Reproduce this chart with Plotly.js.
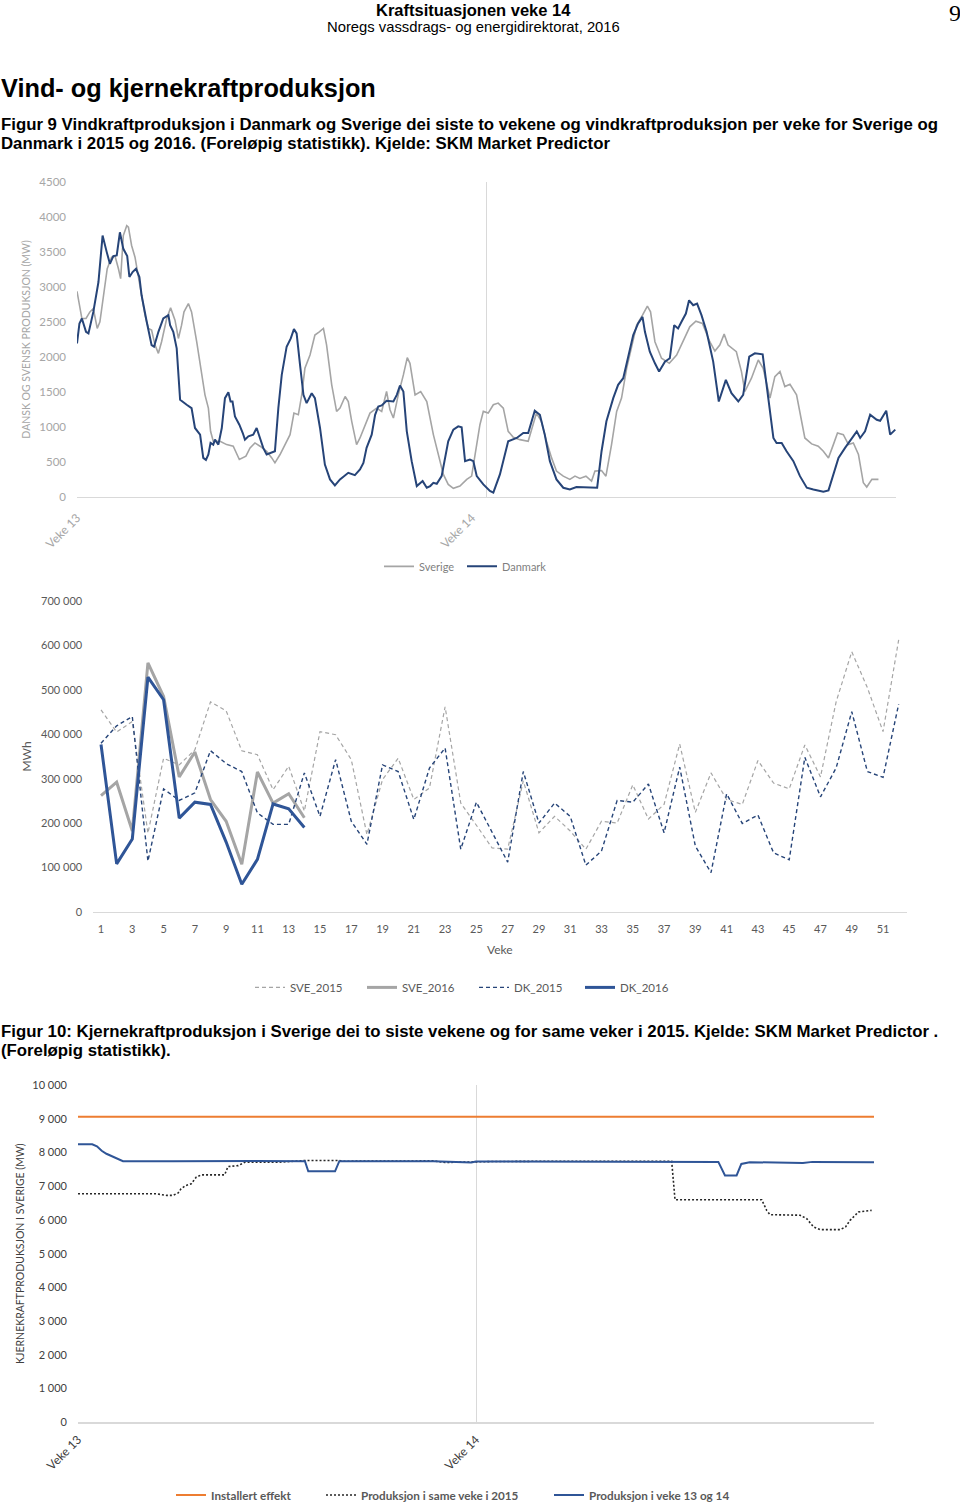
<!DOCTYPE html>
<html>
<head>
<meta charset="utf-8">
<script src="https://cdn.plot.ly/plotly-3.0.1.min.js"></script>
<style>
html,body{margin:0;padding:0;background:#fff;width:960px;height:1510px;overflow:hidden;}
#chart{width:960px;height:1510px;overflow:hidden;}
</style>
</head>
<body>
<div id="chart"></div>
<script>
// ---------- Figur 9 (top): hourly wind production, veke 13-14 (hour index, MW) ----------
const windWeekStartHours = [0, 168];
const windLabelHours = [0, 162];
const windTickLabels = ["Veke 13", "Veke 14"];

const dkHours = [0,1,2,3.7,4.7,6.7,8.8,10.5,12.2,13.5,14.9,16.3,17.6,19,20.6,21.5,22.8,24.2,25.6,26.5,28.6,30.6,31.6,33.4,35.4,37.5,38.2,39.5,40.9,42.3,45,47,48.4,50.5,51.8,52.9,53.9,54.8,55.9,56.6,58,59.4,60.7,62.1,63,63.8,64.8,66.6,68,68.9,70.3,72.3,73.7,75.1,76.4,77.8,79.2,81.2,82.6,84,86,87.7,89,90.1,91.5,92.9,94.2,96.3,97.6,99.7,101.7,103.8,105.8,107.9,111.3,114,116.1,117.5,118.8,120.9,122.3,123.6,125,127,129.8,131.2,132.5,133.9,135.3,137.3,139.4,141.8,143.5,144.9,146.2,147.6,149.6,151,152.3,154.4,156.4,157.8,159.2,161.2,162.6,164,166.7,169.4,170.8,173.5,176.9,180.4,183.1,185.1,187.8,189.9,191.9,194,196.7,199.5,202.2,204.9,207.7,210.4,213.4,215.2,217.2,220,222,224.1,226.1,228.2,230.2,232,233,235,237.1,238.8,241.2,243.2,245,246.6,248,249.8,251.1,252.8,254.4,256.2,258.3,261,263.3,266.2,268.5,271.3,273.3,275.8,278.1,281.3,283.6,285.7,287,289.1,291.1,293.9,296.6,299.4,302.1,306.2,308.3,310.3,312.4,315.1,317.8,319.9,321.3,323.3,325.4,328.1,329.5,332,333.6,335.7];
const dkMW = [2193,2478,2549,2359,2336,2644,3071,3736,3499,3332,3442,3451,3783,3546,3442,3143,3214,3261,3143,2881,2502,2169,2146,2359,2549,2597,2454,2359,2122,1386,1315,1267,983,888,555,527,603,769,745,816,745,983,1410,1495,1362,1362,1149,1030,911,816,864,888,983,816,698,603,627,650,1267,1742,2146,2264,2397,2336,1885,1457,1339,1481,1410,983,460,247,161,247,342,309,389,484,698,888,1172,1291,1305,1372,1362,1457,1590,1505,935,508,152,223,128,152,199,185,294,555,793,959,1006,992,508,532,508,294,176,81,57,318,793,840,911,911,1229,1172,888,508,247,128,104,138,138,128,128,650,1078,1410,1600,1695,1980,2312,2478,2573,2359,2074,1908,1790,1932,1980,2454,2407,2502,2620,2810,2739,2763,2597,2359,1932,1362,1671,1481,1362,1457,2003,2051,2036,1410,840,769,769,650,508,294,128,104,71,90,318,555,698,840,935,840,935,1172,1101,1087,1229,888,959];

const seHours = [0,1,2,3.7,5.3,6.7,8.3,9.4,10.8,12.4,14.2,15.6,17,17.9,19,20.4,21.1,22.4,23.8,25.2,26.5,27.9,29.3,30.6,32,33.4,34.7,36.8,38.4,40.2,41.6,42.9,43.9,45.7,47,49.1,51.1,52.5,53.9,54.8,55.9,58.7,61.4,64.1,66.6,69.3,71,73,75.1,77.8,79.9,81.2,83.3,85.3,87.4,89,90.8,92.2,93.5,95.6,97.6,99.4,101.1,102.4,104.5,106.5,107.9,110,111.3,112.7,114.7,116.1,118.2,120.2,122.9,125,127,128.4,129.8,131.8,133.9,135.5,136.6,138.7,141,143.5,146.2,148.3,150.3,152.3,154.4,157.1,159.9,161.9,163.3,165.3,166.7,168.7,170.8,172.8,174.9,176.9,179,181.7,185.1,187.1,188.5,190.5,192.6,194.7,196.7,199.5,202.2,204.3,206.3,208.8,211.1,212.5,215.2,217,219.3,221.4,223.4,225.5,227.5,229.6,232,234,235.3,237.1,239.8,243,246,248.7,251.4,253.9,256.6,259.6,261.7,263.7,265.5,267.1,270.5,272.6,274,276.7,279.5,281.5,284.3,286.3,288.4,290.4,292.5,295.2,297.3,298.6,301.4,304.1,306.2,308.3,310.3,312,314.4,316.5,318.5,320.6,322.6,324,326.1,328.8];
const seMW = [2938,2739,2549,2549,2644,2692,2407,2502,2881,3261,3427,3442,3261,3119,3736,3878,3855,3594,3427,3119,2881,2597,2407,2383,2169,2051,2217,2549,2701,2525,2264,2454,2644,2763,2644,2217,1790,1457,1267,935,793,793,745,722,532,579,698,769,722,650,555,484,603,745,888,1196,1172,1457,1837,2027,2312,2359,2407,2169,1600,1220,1267,1434,1362,1078,745,840,1030,1196,1267,1220,1505,1244,1125,1457,1742,1989,1908,1457,1505,1362,888,603,318,176,119,152,247,294,603,1030,1220,1196,1315,1339,1267,935,850,816,793,1030,1196,1078,793,555,366,294,247,294,261,294,223,366,375,294,745,1220,1410,1837,2122,2454,2597,2725,2644,2217,1980,1908,2027,2217,2430,2511,2478,2217,2084,2169,2326,2169,2074,1790,1505,1695,1956,1837,1410,1718,1790,1576,1609,1457,1078,840,755,722,650,555,745,911,888,745,769,603,199,138,247,247];

// ---------- Figur 9 (middle): weekly wind production (MWh) ----------
const weeks = Array.from({length: 52}, (_, i) => i + 1);
const weeks2016 = weeks.slice(0, 14);
const sve2015 = [455000,405000,429000,177000,346000,331000,365000,473000,453000,363000,354000,275000,328000,227000,406000,399000,343000,174000,298000,346000,253000,279000,462000,245000,195000,144000,141000,295000,178000,215000,182000,141000,204000,200000,286000,209000,242000,378000,224000,313000,253000,242000,341000,290000,277000,376000,304000,473000,586000,505000,406000,613000];
const sve2016 = [262000,292000,182000,561000,485000,304000,360000,253000,204000,107000,315000,245000,266000,212000];
const dk2015 = [380000,419000,440000,114000,277000,251000,268000,363000,334000,316000,223000,197000,197000,313000,215000,343000,204000,152000,331000,316000,208000,324000,369000,141000,247000,180000,112000,316000,200000,245000,215000,105000,137000,251000,247000,288000,178000,326000,148000,88000,266000,199000,218000,133000,117000,348000,259000,324000,451000,316000,303000,468000];
const dk2016 = [377000,108000,164000,529000,478000,211000,247000,242000,157000,62000,118000,243000,232000,190000];

// ---------- Figur 10 (bottom): Swedish nuclear production (MW) ----------
const nucTickHours = [0, 168];
const nucTickLabels = ["Veke 13", "Veke 14"];
const instHours = [0, 336];
const instMW = [9060, 9060];
const prod2015Hours = [0,33,37.4,40,42.3,43.5,45.5,47.8,49.9,52,61.9,63.3,67.6,70.4,84,90,96,110,112,150,155,160,175,200,230,250.6,252,288.6,290.7,292.1,304.8,307.6,310.5,313.3,321.7,324,325.9,329.4,335];
const prod2015MW = [6775,6775,6726,6726,6800,6922,7020,7070,7266,7335,7335,7581,7610,7709,7709,7740,7760,7760,7740,7750,7700,7710,7730,7740,7730,7740,6600,6600,6283,6155,6140,6037,5792,5713,5713,5792,5988,6234,6283];
const prodNowHours = [0,6,8,10,12,14,16,17.5,19,40,55,65,75,95.8,97.2,108.5,110.3,150,166,168,200,250,270.3,273.1,278,280,283.5,306,310,336];
const prodNowMW = [8240,8240,8180,8050,7960,7900,7850,7800,7740,7740,7750,7735,7745,7740,7440,7440,7740,7740,7700,7730,7720,7720,7720,7320,7320,7660,7710,7690,7720,7710];

// ---------- layout helpers ----------
const W = 960, H = 1510;
const px = x => x / W;
const py = y => 1 - y / H;
const TXT = "'Liberation Sans',Arial,Helvetica,sans-serif";
const CHF = "Lato, 'Open Sans', sans-serif";
const gray = '#a5a5a5', navy = '#264478', blue = '#2f5597', orange = '#ed7d31';

const traces = [
  {x: seHours, y: seMW, name: 'Sverige', type: 'scatter', mode: 'lines', xaxis: 'x', yaxis: 'y', legend: 'legend', legendwidth: 38,
   line: {color: gray, width: 1.6}},
  {x: dkHours, y: dkMW, name: 'Danmark', type: 'scatter', mode: 'lines', xaxis: 'x', yaxis: 'y', legend: 'legend',
   line: {color: navy, width: 2}},

  {x: weeks, y: sve2015, name: 'SVE_2015', type: 'scatter', mode: 'lines', xaxis: 'x2', yaxis: 'y2', legend: 'legend2', legendwidth: 67,
   line: {color: gray, width: 1.2, dash: '4px,3px'}},
  {x: weeks2016, y: sve2016, name: 'SVE_2016', type: 'scatter', mode: 'lines', xaxis: 'x2', yaxis: 'y2', legend: 'legend2', legendwidth: 67,
   line: {color: gray, width: 3}},
  {x: weeks, y: dk2015, name: 'DK_2015', type: 'scatter', mode: 'lines', xaxis: 'x2', yaxis: 'y2', legend: 'legend2', legendwidth: 61,
   line: {color: navy, width: 1.4, dash: '4px,3px'}},
  {x: weeks2016, y: dk2016, name: 'DK_2016', type: 'scatter', mode: 'lines', xaxis: 'x2', yaxis: 'y2', legend: 'legend2',
   line: {color: blue, width: 3}},

  {x: instHours, y: instMW, name: 'Installert effekt', type: 'scatter', mode: 'lines', xaxis: 'x3', yaxis: 'y3', legend: 'legend3', legendwidth: 105,
   line: {color: orange, width: 2}},
  {x: prod2015Hours, y: prod2015MW, name: 'Produksjon i same veke i 2015', type: 'scatter', mode: 'lines', xaxis: 'x3', yaxis: 'y3', legend: 'legend3', legendwidth: 183,
   line: {color: '#262626', width: 1.6, dash: '2px,2px'}},
  {x: prodNowHours, y: prodNowMW, name: 'Produksjon i veke 13 og 14', type: 'scatter', mode: 'lines', xaxis: 'x3', yaxis: 'y3', legend: 'legend3',
   line: {color: blue, width: 2}}
];

function ann(text, x, y, size, opts) {
  return Object.assign({
    text: text, x: px(x), y: py(y), xref: 'paper', yref: 'paper', showarrow: false,
    xanchor: 'left', yanchor: 'middle', font: {family: TXT, size: size, color: '#000'}
  }, opts || {});
}

const layout = {
  width: W, height: H, autosize: false,
  margin: {l: 0, r: 0, t: 0, b: 0},
  paper_bgcolor: '#fff', plot_bgcolor: 'rgba(0,0,0,0)',
  separators: ', ',
  hovermode: false,
  showlegend: true,
  // ----- chart 1 -----
  xaxis: {domain: [px(77), px(896)], range: [0, 336], anchor: 'y',
    tickmode: 'array', tickvals: windLabelHours, ticktext: windTickLabels, tickangle: -45,
    showgrid: false, zeroline: false,
    minor: {tickmode: 'array', tickvals: windWeekStartHours, showgrid: true, gridcolor: '#d9d9d9', gridwidth: 1, ticks: ''},
    showline: true, linecolor: '#d9d9d9', linewidth: 1.5, ticks: '', ticklabelstandoff: 8,
    tickfont: {family: CHF, size: 12, color: '#a6a6a6'}},
  yaxis: {domain: [py(499), py(183)], range: [0, 4500], anchor: 'x',
    dtick: 500, tick0: 0, showgrid: false, zeroline: false, showline: false, ticks: '',
    exponentformat: 'none', separatethousands: false, ticklabelstandoff: 10,
    tickfont: {family: CHF, size: 11.5, color: '#a6a6a6'},
    title: {text: 'DANSK OG SVENSK PRODUKSJON (MW)', standoff: 6,
      font: {family: CHF, size: 10.5, color: '#a6a6a6'}}},
  // ----- chart 2 -----
  xaxis2: {domain: [px(93.2), px(906.5)], range: [0.5, 52.5], anchor: 'y2',
    tick0: 1, dtick: 2, showgrid: false, zeroline: false,
    showline: true, linecolor: '#d9d9d9', linewidth: 1.5, ticks: '', ticklabelstandoff: 7,
    tickfont: {family: CHF, size: 11, color: '#595959'},
    title: {text: 'Veke', standoff: 11, font: {family: CHF, size: 12, color: '#595959'}}},
  yaxis2: {domain: [py(916), py(604)], range: [0, 700000], anchor: 'x2',
    dtick: 100000, tick0: 0, showgrid: false, zeroline: false, showline: false, ticks: '',
    exponentformat: 'none', separatethousands: true, ticklabelstandoff: 10,
    tickfont: {family: CHF, size: 11, color: '#595959'},
    title: {text: 'MWh', standoff: 6, font: {family: CHF, size: 12, color: '#595959'}}},
  // ----- chart 3 -----
  xaxis3: {domain: [px(78), px(874)], range: [0, 336], anchor: 'y3',
    tickmode: 'array', tickvals: nucTickHours, ticktext: nucTickLabels, tickangle: -45,
    showgrid: true, gridcolor: '#d9d9d9', gridwidth: 1, zeroline: false,
    showline: true, linecolor: '#d9d9d9', linewidth: 1.5, ticks: '', ticklabelstandoff: 4,
    tickfont: {family: CHF, size: 12, color: '#404040'}},
  yaxis3: {domain: [py(1429), py(1090)], range: [0, 10000], anchor: 'x3',
    dtick: 1000, tick0: 0, showgrid: false, zeroline: false, showline: false, ticks: '',
    exponentformat: 'none', separatethousands: true, ticklabelstandoff: 10,
    tickfont: {family: CHF, size: 11, color: '#404040'},
    title: {text: 'KJERNEKRAFTPRODUKSJON I SVERIGE (MW)', standoff: 5,
      font: {family: CHF, size: 10.5, color: '#404040'}}},
  legend: {orientation: 'h', x: px(379), xanchor: 'left', y: py(569), yanchor: 'middle',
    font: {family: CHF, size: 11, color: '#7f7f7f'}, bgcolor: 'rgba(0,0,0,0)', itemwidth: 30, traceorder: 'normal'},
  legend2: {orientation: 'h', x: px(250), xanchor: 'left', y: py(992), yanchor: 'middle',
    font: {family: CHF, size: 11.5, color: '#595959'}, bgcolor: 'rgba(0,0,0,0)', itemwidth: 30, traceorder: 'normal'},
  legend3: {orientation: 'h', x: px(171), xanchor: 'left', y: py(1502), yanchor: 'middle',
    font: {family: CHF, size: 11.7, color: '#595959', weight: 'bold'}, bgcolor: 'rgba(0,0,0,0)', itemwidth: 30, traceorder: 'normal'},
  annotations: [
    ann('<b>Kraftsituasjonen veke 14</b>', 473, 10.5, 16.5, {xanchor: 'center'}),
    ann('Noregs vassdrags- og energidirektorat, 2016', 473, 27, 14.8, {xanchor: 'center'}),
    ann('9', 955, 13, 24, {xanchor: 'center', font: {family: "'Liberation Serif','DejaVu Serif',serif", size: 24, color: '#000'}}),
    ann('<b>Vind- og kjernekraftproduksjon</b>', -1, 88, 25.3),
    ann('<b>Figur 9 Vindkraftproduksjon i Danmark og Sverige dei siste to vekene og vindkraftproduksjon per veke for Sverige og</b>', -1, 125, 16.8),
    ann('<b>Danmark i 2015 og 2016. (Foreløpig statistikk). Kjelde: SKM Market Predictor</b>', -1, 144, 16.8),
    ann('<b>Figur 10: Kjernekraftproduksjon i Sverige dei to siste vekene og for same veker i 2015. Kjelde: SKM Market Predictor .</b>', -1, 1036, 16.8),
    ann('<b>(Foreløpig statistikk).</b>', -1, 1055, 16.8)
  ]
};

Plotly.newPlot('chart', traces, layout, {displayModeBar: false, staticPlot: true});
</script>
</body>
</html>
